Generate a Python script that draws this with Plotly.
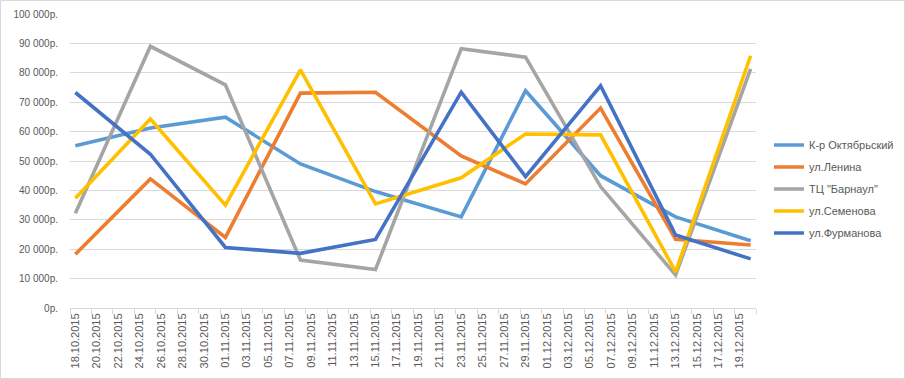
import plotly.graph_objects as go
from datetime import datetime, timedelta

dates = ["2015-10-18", "2015-10-25", "2015-11-01", "2015-11-08", "2015-11-15",
         "2015-11-23", "2015-11-29", "2015-12-06", "2015-12-13", "2015-12-20"]

oktyabrsky = [55200, 61200, 64900, 49000, 39600, 31000, 73900, 45000, 31000, 22900]
lenina = [18300, 43900, 24000, 73100, 73400, 51700, 42200, 68000, 23400, 21400]
barnaul = [32200, 89000, 75900, 16300, 13100, 88200, 85300, 41300, 11200, 81300]
semenova = [37300, 64300, 35000, 81000, 35400, 44300, 59200, 58900, 12300, 85800]
furmanova = [73300, 52300, 20600, 18600, 23300, 73400, 44700, 75600, 24800, 16700]

series_names = ["К-р Октябрьский", "ул.Ленина", "ТЦ \"Барнаул\"", "ул.Семенова", "ул.Фурманова"]
series_values = [oktyabrsky, lenina, barnaul, semenova, furmanova]
colors = ["#5B9BD5", "#ED7D31", "#A5A5A5", "#FFC000", "#4472C4"]

y_ticks = list(range(0, 100001, 10000))
y_labels = [("{:,}".format(v).replace(",", " ") + "р.") for v in y_ticks]

start = datetime(2015, 10, 18)
label_dates = [start + timedelta(days=2 * k) for k in range(32)]
x_labels = [d.strftime("%d.%m.%Y") for d in label_dates]
tick_bounds = [start - timedelta(hours=12) + timedelta(days=2 * k) for k in range(33)]

fig = go.Figure()
for i, (name, vals, col) in enumerate(zip(series_names, series_values, colors)):
    fig.add_trace(go.Scatter(
        x=dates, y=vals, name=name, mode="lines",
        line=dict(color=col, width=3.6),
        legendgroup="g%d" % i,
    ))

fig.update_layout(
    width=905, height=379,
    margin=dict(l=70, r=149, t=14, b=71, autoexpand=False),
    paper_bgcolor="white", plot_bgcolor="white",
    font=dict(family="Liberation Sans, Arial, sans-serif", size=11, color="#595959"),
    showlegend=True,
    legend=dict(
        x=1.0 + 13 / 686, xanchor="left", y=0.405, yanchor="middle",
        font=dict(size=11, color="#595959"),
        traceorder="grouped", tracegroupgap=3,
        itemwidth=30, bgcolor="rgba(0,0,0,0)",
    ),
    xaxis=dict(
        type="date", automargin=False,
        range=[start - timedelta(hours=12), datetime(2015, 12, 20, 12)],
        tickmode="array", tickvals=label_dates, ticktext=x_labels,
        tickangle=-90, ticks="", showgrid=False, zeroline=False,
        showline=True, linecolor="#D9D9D9", linewidth=1,
        tickfont=dict(size=11, color="#595959"),
        minor=dict(tickmode="array", tickvals=tick_bounds, ticks="outside",
                   ticklen=5, tickcolor="#D9D9D9", tickwidth=1, showgrid=False),
    ),
    yaxis=dict(
        automargin=False,
        range=[0, 100000], tickmode="array", tickvals=y_ticks, ticktext=y_labels,
        showgrid=True, gridcolor="#D9D9D9", gridwidth=1, zeroline=False,
        showline=False, ticks="", ticklabelstandoff=11,
        tickfont=dict(size=10, color="#595959"),
    ),
)

fig.add_shape(type="rect", xref="paper", yref="paper",
              x0=-69.5 / 686, x1=(905 - 70 - 0.5) / 686,
              y0=-(71 - 0.5) / 294, y1=1 + (14 - 0.5) / 294,
              line=dict(color="#D9D9D9", width=1), layer="below")

fig.write_html("out.html", config={"displayModeBar": False},
               post_script="document.body.style.margin='0';document.body.style.overflow='hidden';")
